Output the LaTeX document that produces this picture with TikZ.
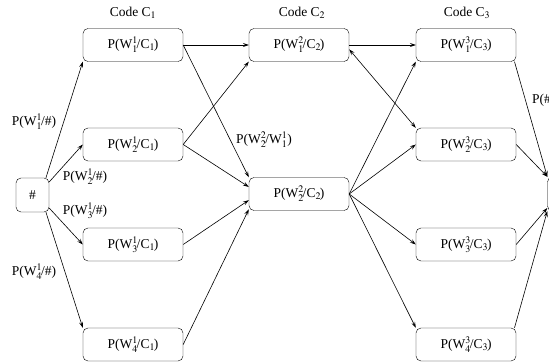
\documentclass[tikz,border=0pt]{standalone}
\usepackage{mathptmx}
\usepackage{fontspec}
\setmainfont{Liberation Serif}
\usetikzlibrary{arrows.meta}
\tikzset{
  probbox/.style={draw,rounded corners=5pt,minimum width=100pt,minimum height=33pt,inner sep=0pt},
  hashbox/.style={draw,rounded corners=5pt,minimum width=33pt,minimum height=34pt,inner sep=0pt},
  flow/.style={-{Stealth[length=6pt,width=4pt,inset=2.5pt]},line width=0.6pt},
  bothflow/.style={{Stealth[length=6pt,width=4pt,inset=2.5pt]}-{Stealth[length=6pt,width=4pt,inset=2.5pt]},line width=0.6pt},
  steplabel/.style={inner sep=0pt}
}
\newcommand{\pwc}[3]{P(W$^{#1}_{#2}$\kern-1pt/C$_{#3}$\kern-1pt)}

\begin{document}
\begin{tikzpicture}[x=1pt,y=-1pt,
  every node/.style={font=\fontsize{13.5}{16}\selectfont}]

\useasboundingbox (0,0) rectangle (549,363);
\clip (0,0) rectangle (549,363);

% Start and end nodes
\node[hashbox] (hash) at (32.5,195) {\#};
\node[hashbox] (End) at (564,194) {};

% Code C1
\node[probbox] (A1) at (133, 45)   {\pwc{1}{1}{1}};
\node[probbox] (A2) at (133,144.5) {\pwc{1}{2}{1}};
\node[probbox] (A3) at (133,244.5) {\pwc{1}{3}{1}};
\node[probbox] (A4) at (133,344.5) {\pwc{1}{4}{1}};

% Code C2
\node[probbox] (B1) at (299, 45) {\pwc{2}{1}{2}};
\node[probbox] (B2) at (299,194) {\pwc{2}{2}{2}};

% Code C3
\node[probbox] (C1) at (466, 45)   {\pwc{3}{1}{3}};
\node[probbox] (C2) at (466,144.5) {\pwc{3}{2}{3}};
\node[probbox] (C3) at (466,244.5) {\pwc{3}{3}{3}};
\node[probbox] (C4) at (466,344.5) {\pwc{3}{4}{3}};

% Column titles
\node (code1) at (133,13) {Code C$_1$};
\node (code2) at (302,13) {Code C$_2$};
\node (code3) at (467,13) {Code C$_3$};

% Transition labels
\node[steplabel] (l1) at (34,122) {P(W$^1_1$\kern-1pt/\#)};
\node[steplabel] (l2) at (85,177) {P(W$^1_2$\kern-1pt/\#)};
\node[steplabel] (l3) at (85,211) {P(W$^1_3$\kern-1pt/\#)};
\node[steplabel] (l4) at (34,272) {P(W$^1_4$\kern-1pt/\#)};
\node[steplabel] (l5) at (264,140) {P(W$^2_2$\kern-1pt/W$^1_1$)};
\node[steplabel,anchor=west] (l6) at (532,100) {P(\#};

% Start to code C1
\foreach \i/\j in {
hash.52/A1.south west, hash.38/A2.west,
hash.-38/A3.west, hash.-52/A4.north west}
{
  \draw[flow] (\i) -- (\j);
}

% Code C1 to code C2
\foreach \i/\j in {
A1.east/B1.west, A1.east/B2.north west,
A2.east/B1.south west, A2.east/B2.172,
A3.east/B2.-173, A4.east/B2.-163}
{
  \draw[flow] (\i) -- (\j);
}

% Code C2 to code C3
\foreach \i/\j in {
B1.east/C1.west,
B2.east/C1.south west, B2.east/C2.west,
B2.east/C3.west, B2.east/C4.north west}
{
  \draw[flow] (\i) -- (\j);
}
\draw[bothflow] (B1.-5) -- (C2.north west);

% Code C3 to end
\foreach \i/\j in {
C1.-19/End.north west, C2.east/End.north west,
C3.east/End.-140, C4.19/End.south west}
{
  \draw[flow] (\i) -- (\j);
}

\end{tikzpicture}
\end{document}
